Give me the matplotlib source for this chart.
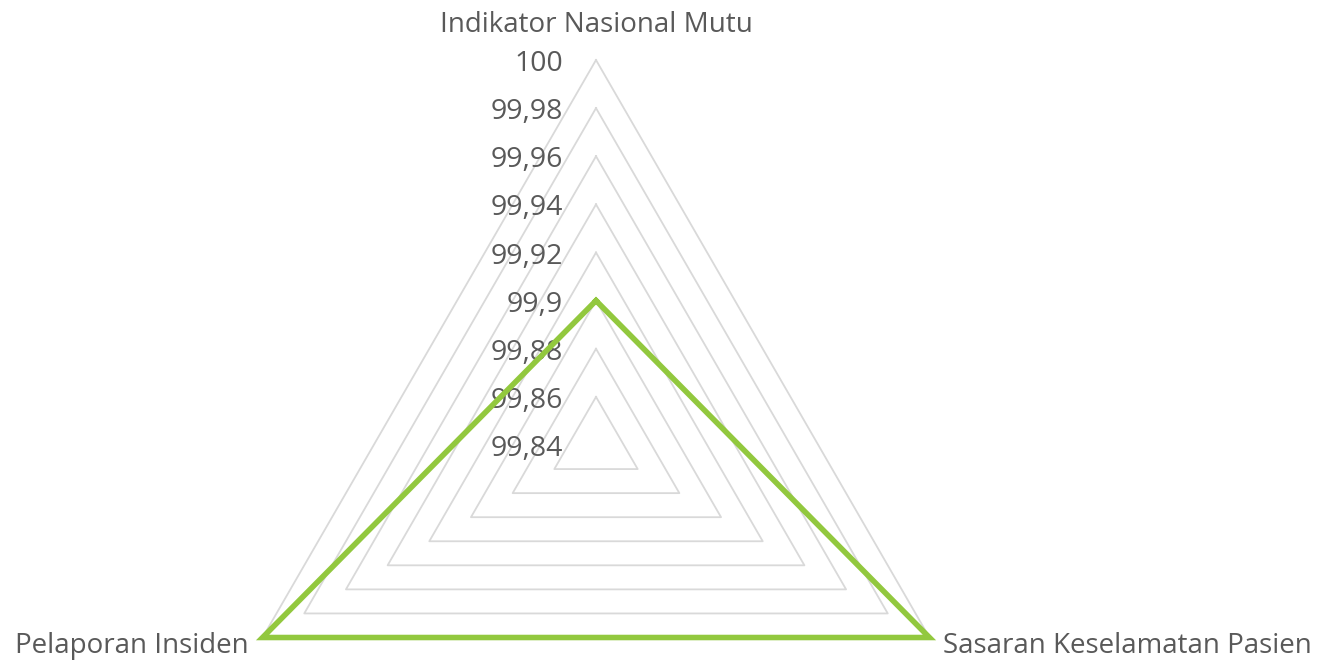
import matplotlib.pyplot as plt
import numpy as np
from matplotlib.transforms import offset_copy

plt.rcParams["font.family"] = ["Open Sans", "DejaVu Sans"]

# data
categories = ["Indikator Nasional Mutu", "Sasaran Keselamatan Pasien", "Pelaporan Insiden"]
values = [99.9, 100, 100]
ticks = [99.84, 99.86, 99.88, 99.9, 99.92, 99.94, 99.96, 99.98, 100]
tick_labels = ["99,84", "99,86", "99,88", "99,9", "99,92", "99,94", "99,96", "99,98", "100"]

fig = plt.figure(figsize=(13.17, 6.63), dpi=100)
# axes placed so that centre is at (596, 445) px with radius 385 px
ax = fig.add_axes([0.1602, -0.2519, 0.5847, 1.1614], projection="polar")
ax.set_theta_zero_location("N")
ax.set_theta_direction(-1)
ax.set_ylim(ticks[0], ticks[-1])
ax.grid(False)
ax.set_xticks([])
ax.set_yticks([])
ax.spines["polar"].set_visible(False)
ax.patch.set_visible(False)

angles = np.linspace(0, 2 * np.pi, len(categories), endpoint=False)
closed = np.append(angles, angles[0])

# grid triangles
for t in ticks[1:]:
    ax.plot(closed, [t] * len(closed), color="#d9d9d9", lw=1.3, clip_on=False, zorder=1)

# series
ax.plot(closed, values + values[:1], color="#92c83e", lw=4, clip_on=False, zorder=3,
        solid_joinstyle="miter")

# tick labels
lab_tr = offset_copy(ax.transData, fig=fig, x=-33, y=-4, units="dots")
for t, lab in zip(ticks, tick_labels):
    ax.text(0, t, lab, transform=lab_tr, ha="right", va="center",
            fontsize=20.5, color="#595959", zorder=2)

# category labels
offsets = [(0, 35, "center", "center"), (14, -8, "left", "center"), (-14, -8, "right", "center")]
for a, c, (dx, dy, ha, va) in zip(angles, categories, offsets):
    tr = offset_copy(ax.transData, fig=fig, x=dx, y=dy, units="dots")
    ax.text(a, ticks[-1], c, transform=tr, ha=ha, va=va, fontsize=20, color="#595959")

fig.savefig("out.png", dpi=100)
